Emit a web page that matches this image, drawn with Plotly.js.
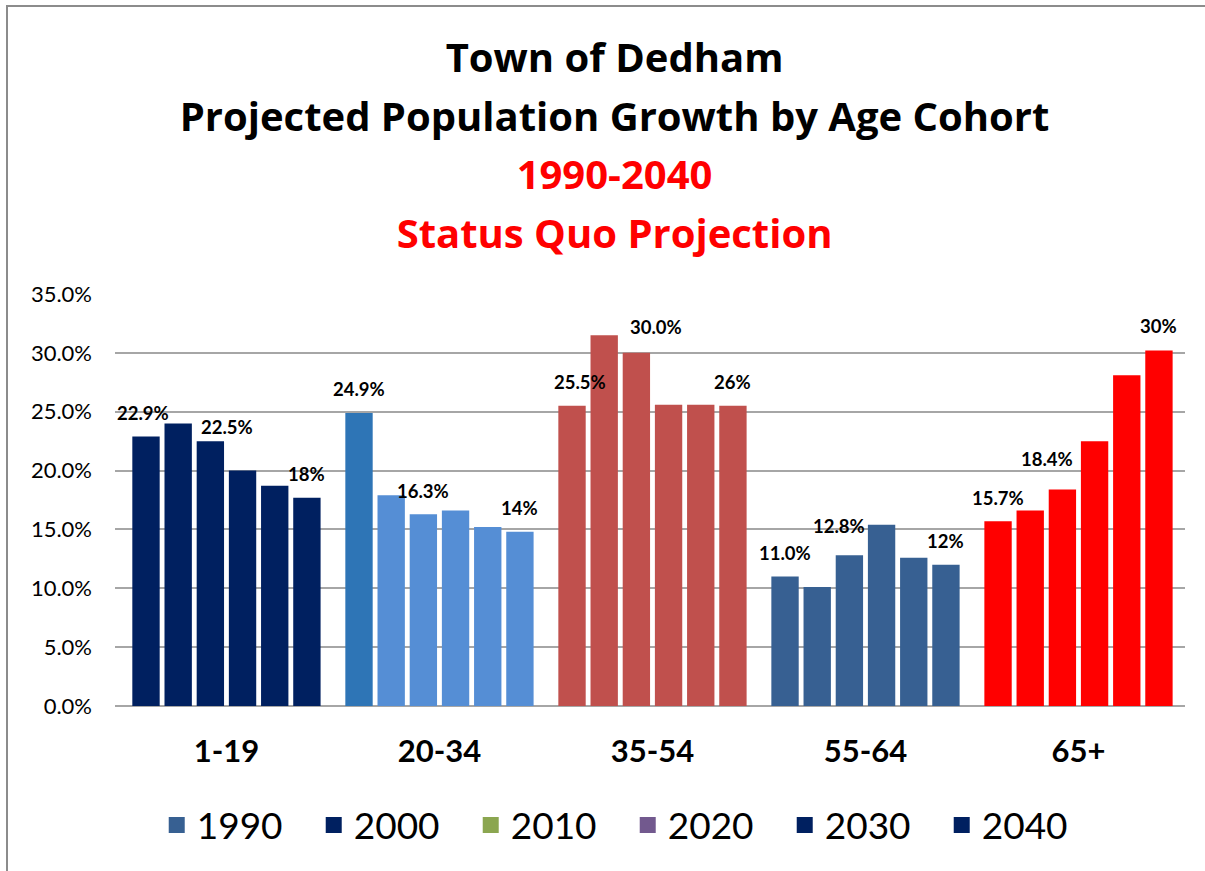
<!DOCTYPE html>
<html><head><meta charset="utf-8">
<script src="https://cdn.plot.ly/plotly-3.0.1.min.js"></script>
<style>
html,body{margin:0;padding:0;background:#fff;}
#chart{width:1205px;height:871px;}
#frame{position:absolute;left:6px;top:5px;width:1300px;height:1000px;border-left:2px solid #8c8c8c;border-top:2px solid #8c8c8c;pointer-events:none;}
</style>
</head><body>
<div id="chart"></div><div id="frame"></div>
<script>
// ---- data ----
const categories = ['1-19', '20-34', '35-54', '55-64', '65+'];
const years = ['1990', '2000', '2010', '2020', '2030', '2040'];
const v1990 = [0.229, 0.249, 0.255, 0.110, 0.157];
const v2000 = [0.240, 0.179, 0.315, 0.101, 0.166];
const v2010 = [0.225, 0.163, 0.300, 0.128, 0.184];
const v2020 = [0.200, 0.166, 0.256, 0.154, 0.225];
const v2030 = [0.187, 0.152, 0.256, 0.126, 0.281];
const v2040 = [0.177, 0.148, 0.255, 0.120, 0.302];
const labels1990 = ['22.9%', '24.9%', '25.5%', '11.0%', '15.7%'];
const labels2010 = ['22.5%', '16.3%', '30.0%', '12.8%', '18.4%'];
const labels2040 = ['18%', '14%', '26%', '12%', '30%'];
const yTickLabels = ['0.0%', '5.0%', '10.0%', '15.0%', '20.0%', '25.0%', '30.0%', '35.0%'];
const yTickVals = [0, 0.05, 0.10, 0.15, 0.20, 0.25, 0.30, 0.35];

// ---- styles ----
const colorsFirst = ['#002060', '#2E75B6', '#C0504D', '#376092', '#FF0000'];
const colorsRest  = ['#002060', '#558ED5', '#C0504D', '#376092', '#FF0000'];
const legendColors = ['#376092', '#002060', '#8BA650', '#72598E', '#002060', '#002060'];
const seriesValues = [v1990, v2000, v2010, v2020, v2030, v2040];
const seriesLabels = {0: labels1990, 2: labels2010, 5: labels2040};
// pixel nudges [dx, extra dy] for labels that were moved by hand in the original
const labelNudge = {
  0: [[-3,0],[0,0],[8,0],[0,0],[0,0]],
  2: [[17,-9.5],[0,0],[20,2.5],[-10,5.5],[-15,6.5]],
  5: [[0,0],[0,0],[0,0],[0,0],[0,1.5]]
};
const FONT = 'Lato, "Open Sans", sans-serif';
const TFONT = '"Open Sans", Lato, sans-serif';
const bargap = 0.0935, bargroupgap = 0.15;

const traces = [];
seriesValues.forEach((vals, i) => {
  traces.push({
    type: 'bar', name: years[i], x: categories, y: vals,
    marker: {color: i === 0 ? colorsFirst : colorsRest},
    showlegend: false, hoverinfo: 'skip'
  });
});
years.forEach((yr, i) => {
  traces.push({
    type: 'scatter', mode: 'markers', name: yr, x: [categories[0]], y: [null],
    marker: {symbol: 'square', size: 16, color: legendColors[i]},
    showlegend: true, hoverinfo: 'skip'
  });
});

const nSeries = seriesValues.length;
function slotOffset(i) { const slot = (1 - bargap) / nSeries; return (i - (nSeries - 1) / 2) * slot; }
const annotations = [];
Object.keys(seriesLabels).forEach(k => {
  const i = +k;
  seriesLabels[k].forEach((txt, c) => {
    const nud = labelNudge[k][c];
    annotations.push({
      xref: 'x', yref: 'y', x: c + slotOffset(i), y: seriesValues[i][c],
      text: '<b>' + txt + '</b>', showarrow: false,
      xanchor: 'center', yanchor: 'middle', xshift: nud[0], yshift: 23.5 + nud[1],
      font: {family: FONT, size: 18.5, color: '#000'}
    });
  });
});

const red = '<span style="color:#FF0000;font-size:40px">';
const blk = '<span style="font-size:40px">';
const layout = {
  width: 1205, height: 871,
  paper_bgcolor: '#fff', plot_bgcolor: '#fff',
  margin: {l: 115, r: 20, t: 294, b: 165},
  title: {
    text: blk + 'Town of Dedham</span><br>' + blk + 'Projected Population Growth by Age Cohort</span><br>' +
          red + '1990-2040</span><br>' + red + 'Status Quo Projection</span>',
    font: {family: TFONT, size: 45, color: '#000', weight: 'bold'},
    x: 0.51, xanchor: 'center', xref: 'container',
    y: 0.917, yanchor: 'top', yref: 'container'
  },
  xaxis: {
    type: 'category', showgrid: false, showline: false, zeroline: false, ticks: '',
    tickfont: {family: FONT, size: 31, color: '#000', weight: 'bold'},
    ticklabelstandoff: 24
  },
  yaxis: {
    range: [0, 0.35], tickvals: yTickVals, ticktext: yTickLabels,
    showgrid: true, gridcolor: '#a6a6a6', gridwidth: 2,
    zeroline: true, zerolinecolor: '#a6a6a6', zerolinewidth: 2,
    showline: false, ticks: '',
    tickfont: {family: FONT, size: 22, color: '#000'},
    ticklabelstandoff: 22
  },
  barmode: 'group', bargap: bargap, bargroupgap: bargroupgap,
  showlegend: true,
  legend: {
    orientation: 'h', x: 0.039, xanchor: 'left', y: -0.29, yanchor: 'middle',
    font: {family: FONT, size: 37, color: '#000'},
    entrywidth: 112, itemwidth: 30, bgcolor: 'rgba(0,0,0,0)'
  },
  annotations: annotations
};
Plotly.newPlot('chart', traces, layout, {staticPlot: true, displayModeBar: false});
</script>
</body></html>
